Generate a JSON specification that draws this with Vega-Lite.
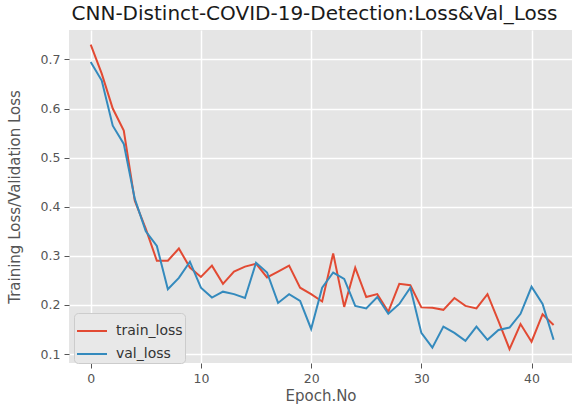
{
  "$schema": "https://vega.github.io/schema/vega-lite/v6.json",
  "autosize": {"type": "none"},
  "padding": {"left": 69, "top": 30, "right": 0, "bottom": 47},
  "width": 503,
  "height": 333,
  "background": "white",
  "title": {
    "text": "CNN-Distinct-COVID-19-Detection:Loss&Val_Loss",
    "font": "DejaVu Sans",
    "fontSize": 20,
    "fontWeight": "normal",
    "color": "#1a1a1a",
    "anchor": "middle",
    "dx": -6,
    "offset": 6
  },
  "config": {
    "view": {"fill": "#E5E5E5", "stroke": null},
    "axis": {
      "domain": false,
      "gridColor": "#FFFFFF",
      "gridWidth": 1.5,
      "tickColor": "#555555",
      "tickSize": 5,
      "tickWidth": 1,
      "labelColor": "#555555",
      "labelFont": "DejaVu Sans",
      "labelFontSize": 12.5,
      "titleColor": "#555555",
      "titleFont": "DejaVu Sans",
      "titleFontWeight": "normal",
      "titleFontSize": 15
    }
  },
  "data": {
    "values": [
      {"epoch": 0, "series": "train_loss", "loss": 0.73},
      {"epoch": 1, "series": "train_loss", "loss": 0.671},
      {"epoch": 2, "series": "train_loss", "loss": 0.6},
      {"epoch": 3, "series": "train_loss", "loss": 0.555},
      {"epoch": 4, "series": "train_loss", "loss": 0.412},
      {"epoch": 5, "series": "train_loss", "loss": 0.355},
      {"epoch": 6, "series": "train_loss", "loss": 0.29},
      {"epoch": 7, "series": "train_loss", "loss": 0.29},
      {"epoch": 8, "series": "train_loss", "loss": 0.315},
      {"epoch": 9, "series": "train_loss", "loss": 0.276},
      {"epoch": 10, "series": "train_loss", "loss": 0.257},
      {"epoch": 11, "series": "train_loss", "loss": 0.28},
      {"epoch": 12, "series": "train_loss", "loss": 0.243},
      {"epoch": 13, "series": "train_loss", "loss": 0.268},
      {"epoch": 14, "series": "train_loss", "loss": 0.278},
      {"epoch": 15, "series": "train_loss", "loss": 0.284},
      {"epoch": 16, "series": "train_loss", "loss": 0.256},
      {"epoch": 17, "series": "train_loss", "loss": 0.268},
      {"epoch": 18, "series": "train_loss", "loss": 0.28},
      {"epoch": 19, "series": "train_loss", "loss": 0.235},
      {"epoch": 20, "series": "train_loss", "loss": 0.222},
      {"epoch": 21, "series": "train_loss", "loss": 0.207},
      {"epoch": 22, "series": "train_loss", "loss": 0.305},
      {"epoch": 23, "series": "train_loss", "loss": 0.196},
      {"epoch": 24, "series": "train_loss", "loss": 0.276},
      {"epoch": 25, "series": "train_loss", "loss": 0.216},
      {"epoch": 26, "series": "train_loss", "loss": 0.222},
      {"epoch": 27, "series": "train_loss", "loss": 0.186},
      {"epoch": 28, "series": "train_loss", "loss": 0.243},
      {"epoch": 29, "series": "train_loss", "loss": 0.24},
      {"epoch": 30, "series": "train_loss", "loss": 0.195},
      {"epoch": 31, "series": "train_loss", "loss": 0.194},
      {"epoch": 32, "series": "train_loss", "loss": 0.19},
      {"epoch": 33, "series": "train_loss", "loss": 0.214},
      {"epoch": 34, "series": "train_loss", "loss": 0.198},
      {"epoch": 35, "series": "train_loss", "loss": 0.193},
      {"epoch": 36, "series": "train_loss", "loss": 0.222},
      {"epoch": 37, "series": "train_loss", "loss": 0.167},
      {"epoch": 38, "series": "train_loss", "loss": 0.11},
      {"epoch": 39, "series": "train_loss", "loss": 0.161},
      {"epoch": 40, "series": "train_loss", "loss": 0.125},
      {"epoch": 41, "series": "train_loss", "loss": 0.181},
      {"epoch": 42, "series": "train_loss", "loss": 0.159},
      {"epoch": 0, "series": "val_loss", "loss": 0.695},
      {"epoch": 1, "series": "val_loss", "loss": 0.657},
      {"epoch": 2, "series": "val_loss", "loss": 0.565},
      {"epoch": 3, "series": "val_loss", "loss": 0.528},
      {"epoch": 4, "series": "val_loss", "loss": 0.416},
      {"epoch": 5, "series": "val_loss", "loss": 0.35},
      {"epoch": 6, "series": "val_loss", "loss": 0.32},
      {"epoch": 7, "series": "val_loss", "loss": 0.232},
      {"epoch": 8, "series": "val_loss", "loss": 0.255},
      {"epoch": 9, "series": "val_loss", "loss": 0.288},
      {"epoch": 10, "series": "val_loss", "loss": 0.235},
      {"epoch": 11, "series": "val_loss", "loss": 0.215},
      {"epoch": 12, "series": "val_loss", "loss": 0.227},
      {"epoch": 13, "series": "val_loss", "loss": 0.222},
      {"epoch": 14, "series": "val_loss", "loss": 0.214},
      {"epoch": 15, "series": "val_loss", "loss": 0.286},
      {"epoch": 16, "series": "val_loss", "loss": 0.266},
      {"epoch": 17, "series": "val_loss", "loss": 0.204},
      {"epoch": 18, "series": "val_loss", "loss": 0.222},
      {"epoch": 19, "series": "val_loss", "loss": 0.208},
      {"epoch": 20, "series": "val_loss", "loss": 0.151},
      {"epoch": 21, "series": "val_loss", "loss": 0.235},
      {"epoch": 22, "series": "val_loss", "loss": 0.266},
      {"epoch": 23, "series": "val_loss", "loss": 0.253},
      {"epoch": 24, "series": "val_loss", "loss": 0.198},
      {"epoch": 25, "series": "val_loss", "loss": 0.193},
      {"epoch": 26, "series": "val_loss", "loss": 0.216},
      {"epoch": 27, "series": "val_loss", "loss": 0.182},
      {"epoch": 28, "series": "val_loss", "loss": 0.202},
      {"epoch": 29, "series": "val_loss", "loss": 0.235},
      {"epoch": 30, "series": "val_loss", "loss": 0.143},
      {"epoch": 31, "series": "val_loss", "loss": 0.113},
      {"epoch": 32, "series": "val_loss", "loss": 0.156},
      {"epoch": 33, "series": "val_loss", "loss": 0.143},
      {"epoch": 34, "series": "val_loss", "loss": 0.127},
      {"epoch": 35, "series": "val_loss", "loss": 0.156},
      {"epoch": 36, "series": "val_loss", "loss": 0.129},
      {"epoch": 37, "series": "val_loss", "loss": 0.149},
      {"epoch": 38, "series": "val_loss", "loss": 0.154},
      {"epoch": 39, "series": "val_loss", "loss": 0.182},
      {"epoch": 40, "series": "val_loss", "loss": 0.237},
      {"epoch": 41, "series": "val_loss", "loss": 0.202},
      {"epoch": 42, "series": "val_loss", "loss": 0.129}
    ]
  },
  "mark": {"type": "line", "strokeWidth": 2, "clip": true},
  "encoding": {
    "x": {
      "field": "epoch",
      "type": "quantitative",
      "scale": {"domain": [-1.97, 43.67], "nice": false, "zero": false},
      "axis": {"values": [0, 10, 20, 30, 40], "title": "Epoch.No", "titlePadding": 4, "labelPadding": 4}
    },
    "y": {
      "field": "loss",
      "type": "quantitative",
      "scale": {"domain": [0.0817, 0.76], "nice": false, "zero": false},
      "axis": {"values": [0.1, 0.2, 0.3, 0.4, 0.5, 0.6, 0.7], "format": ".1f", "title": "Training Loss/Validation Loss", "titlePadding": 18, "labelPadding": 4}
    },
    "color": {
      "field": "series",
      "type": "nominal",
      "scale": {"domain": ["train_loss", "val_loss"], "range": ["#E24A33", "#348ABD"]},
      "legend": {
        "title": null,
        "orient": "none",
        "legendX": 5,
        "legendY": 283,
        "symbolType": "stroke",
        "symbolSize": 900,
        "symbolStrokeWidth": 2,
        "labelFont": "DejaVu Sans",
        "labelFontSize": 14,
        "labelColor": "#333333",
        "fillColor": "#E8E8E8",
        "strokeColor": "#CCCCCC",
        "cornerRadius": 4,
        "padding": 2,
        "rowPadding": -16,
        "labelOffset": 8
      }
    }
  }
}
